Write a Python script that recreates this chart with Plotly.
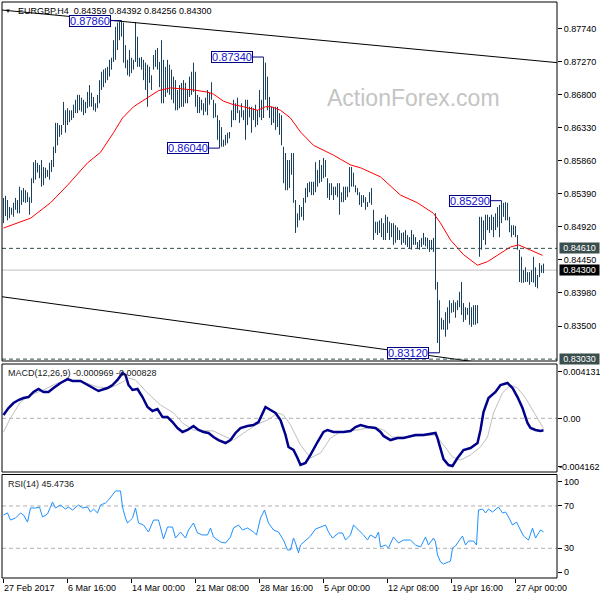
import plotly.graph_objects as go

# ---------------- data ----------------
symbol_text = "EURGBP,H4  0.84359 0.84392 0.84256 0.84300"
macd_text = "MACD(12,26,9) -0.000969 -0.000828"
rsi_text = "RSI(14) 45.4736"
watermark = "ActionForex.com"

bar_high = [
    0.8533, 0.8536, 0.8530, 0.8520, 0.8519, 0.8526, 0.8533, 0.8530, 0.8549, 0.8544,
    0.8547, 0.8544, 0.8541, 0.8534, 0.8561, 0.8584, 0.8587, 0.8583, 0.8580, 0.8587,
    0.8577, 0.8576, 0.8573, 0.8583, 0.8587, 0.8606, 0.8640, 0.8640, 0.8637, 0.8637,
    0.8670, 0.8658, 0.8661, 0.8658, 0.8658, 0.8666, 0.8673, 0.8680, 0.8680, 0.8676,
    0.8673, 0.8670, 0.8684, 0.8694, 0.8683, 0.8677, 0.8668, 0.8680, 0.8701, 0.8713,
    0.8716, 0.8718, 0.8720, 0.8730, 0.8733, 0.8758, 0.8777, 0.8783, 0.8784, 0.8786,
    0.8783, 0.8751, 0.8730, 0.8744, 0.8733, 0.8730, 0.8784, 0.8763, 0.8733, 0.8734,
    0.8730, 0.8726, 0.8723, 0.8720, 0.8708, 0.8737, 0.8744, 0.8747, 0.8727, 0.8758,
    0.8730, 0.8720, 0.8730, 0.8723, 0.8716, 0.8706, 0.8701, 0.8687, 0.8694, 0.8697,
    0.8701, 0.8697, 0.8687, 0.8706, 0.8713, 0.8726, 0.8713, 0.8680, 0.8677, 0.8673,
    0.8668, 0.8676, 0.8687, 0.8683, 0.8698, 0.8673, 0.8668, 0.8651, 0.8644, 0.8634,
    0.8616, 0.8623, 0.8626, 0.8627, 0.8658, 0.8673, 0.8668, 0.8676, 0.8658, 0.8668,
    0.8658, 0.8673, 0.8673, 0.8663, 0.8663, 0.8661, 0.8666, 0.8658, 0.8687, 0.8673,
    0.8734, 0.8726, 0.8706, 0.8677, 0.8663, 0.8663, 0.8663, 0.8663, 0.8654, 0.8651,
    0.8606, 0.8597, 0.8587, 0.8587, 0.8597, 0.8597, 0.8530, 0.8511, 0.8523, 0.8520,
    0.8533, 0.8547, 0.8554, 0.8556, 0.8556, 0.8556, 0.8584, 0.8573, 0.8587, 0.8580,
    0.8590, 0.8587, 0.8561, 0.8554, 0.8554, 0.8549, 0.8549, 0.8554, 0.8554, 0.8541,
    0.8549, 0.8549, 0.8549, 0.8577, 0.8577, 0.8569, 0.8551, 0.8547, 0.8541, 0.8537,
    0.8537, 0.8534, 0.8527, 0.8541, 0.8547, 0.8516, 0.8499, 0.8499, 0.8501, 0.8504,
    0.8497, 0.8509, 0.8506, 0.8499, 0.8497, 0.8497, 0.8494, 0.8491, 0.8487, 0.8483,
    0.8484, 0.8487, 0.8480, 0.8477, 0.8487, 0.8481, 0.8477, 0.8470, 0.8473, 0.8476,
    0.8483, 0.8477, 0.8476, 0.8473, 0.8473, 0.8476, 0.8511, 0.8413, 0.8387, 0.8362,
    0.8359, 0.8370, 0.8377, 0.8387, 0.8383, 0.8387, 0.8384, 0.8387, 0.8399, 0.8413,
    0.8383, 0.8377, 0.8376, 0.8384, 0.8377, 0.8380, 0.8380, 0.8380, 0.8506, 0.8506,
    0.8501, 0.8509, 0.8509, 0.8506, 0.8509, 0.8506, 0.8511, 0.8520, 0.8523, 0.8529,
    0.8526, 0.8527, 0.8526, 0.8506, 0.8494, 0.8494, 0.8493, 0.8480, 0.8459, 0.8449,
    0.8430, 0.8434, 0.8427, 0.8427, 0.8430, 0.8449, 0.8434, 0.8423, 0.8440, 0.8437, 0.84392,
]
bar_low = [
    0.8497, 0.8507, 0.8501, 0.8504, 0.8509, 0.8506, 0.8516, 0.8511, 0.8511, 0.8523,
    0.8527, 0.8526, 0.8527, 0.8509, 0.8526, 0.8554, 0.8559, 0.8569, 0.8561, 0.8549,
    0.8551, 0.8561, 0.8563, 0.8559, 0.8570, 0.8577, 0.8597, 0.8608, 0.8620, 0.8623,
    0.8637, 0.8626, 0.8637, 0.8641, 0.8644, 0.8647, 0.8654, 0.8654, 0.8658, 0.8656,
    0.8651, 0.8654, 0.8661, 0.8663, 0.8663, 0.8658, 0.8656, 0.8661, 0.8668, 0.8687,
    0.8691, 0.8697, 0.8701, 0.8706, 0.8716, 0.8727, 0.8730, 0.8744, 0.8758, 0.8763,
    0.8726, 0.8718, 0.8708, 0.8706, 0.8711, 0.8716, 0.8727, 0.8720, 0.8720, 0.8716,
    0.8701, 0.8687, 0.8663, 0.8697, 0.8687, 0.8716, 0.8720, 0.8716, 0.8691, 0.8668,
    0.8668, 0.8677, 0.8683, 0.8680, 0.8673, 0.8668, 0.8658, 0.8658, 0.8661, 0.8663,
    0.8663, 0.8668, 0.8668, 0.8677, 0.8680, 0.8684, 0.8663, 0.8654, 0.8654, 0.8658,
    0.8651, 0.8656, 0.8651, 0.8666, 0.8673, 0.8647, 0.8648, 0.8616, 0.8604, 0.8606,
    0.8606, 0.8608, 0.8611, 0.8618, 0.8634, 0.8644, 0.8644, 0.8654, 0.8640, 0.8648,
    0.8644, 0.8616, 0.8637, 0.8648, 0.8626, 0.8644, 0.8634, 0.8637, 0.8648, 0.8644,
    0.8647, 0.8673, 0.8658, 0.8647, 0.8637, 0.8640, 0.8630, 0.8634, 0.8623, 0.8608,
    0.8554, 0.8544, 0.8544, 0.8547, 0.8566, 0.8526, 0.8483, 0.8491, 0.8501, 0.8506,
    0.8501, 0.8526, 0.8534, 0.8541, 0.8537, 0.8537, 0.8541, 0.8549, 0.8554, 0.8556,
    0.8561, 0.8563, 0.8533, 0.8530, 0.8537, 0.8530, 0.8537, 0.8534, 0.8509, 0.8527,
    0.8527, 0.8530, 0.8534, 0.8541, 0.8549, 0.8549, 0.8541, 0.8537, 0.8523, 0.8520,
    0.8526, 0.8516, 0.8520, 0.8526, 0.8523, 0.8473, 0.8483, 0.8480, 0.8483, 0.8477,
    0.8473, 0.8473, 0.8483, 0.8473, 0.8477, 0.8466, 0.8469, 0.8473, 0.8473, 0.8466,
    0.8469, 0.8466, 0.8463, 0.8461, 0.8459, 0.8466, 0.8466, 0.8460, 0.8459, 0.8463,
    0.8466, 0.8464, 0.8460, 0.8456, 0.8459, 0.8456, 0.8402, 0.8326, 0.8312, 0.8345,
    0.8345, 0.8335, 0.8345, 0.8354, 0.8369, 0.8370, 0.8362, 0.8373, 0.8377, 0.8366,
    0.8356, 0.8359, 0.8366, 0.8352, 0.8349, 0.8352, 0.8352, 0.8354, 0.8449, 0.8459,
    0.8473, 0.8466, 0.8487, 0.8483, 0.8487, 0.8477, 0.8487, 0.8491, 0.8477, 0.8497,
    0.8506, 0.8501, 0.8501, 0.8484, 0.8477, 0.8480, 0.8477, 0.8459, 0.8413, 0.8412,
    0.8412, 0.8413, 0.8413, 0.8409, 0.8413, 0.8412, 0.8406, 0.8404, 0.8420, 0.8426, 0.84256,
]

ma_idx = [0, 13.5, 23.5, 32, 42, 48.5, 55, 59.5, 65, 72, 77.5, 83.5, 95, 102, 105, 110,
          115, 120, 127, 131, 134, 138.5, 143.5, 148.5, 155, 165, 173.5, 178.5, 188.5,
          198.5, 207, 215, 218.5, 223.5, 230, 237, 242, 248.5, 253.5, 257.5, 265, 269.5]
ma_val = [0.8490, 0.8504, 0.8526, 0.8551, 0.8583, 0.8598, 0.8626, 0.8647, 0.8663, 0.8676,
          0.8686, 0.8690, 0.8687, 0.8684, 0.8681, 0.8671, 0.8666, 0.8663, 0.8658, 0.8663,
          0.8663, 0.8658, 0.8647, 0.8627, 0.8608, 0.8594, 0.8580, 0.8576, 0.8563, 0.8537,
          0.8526, 0.8511, 0.8497, 0.8473, 0.8452, 0.8437, 0.8442, 0.8454, 0.8463, 0.8466,
          0.8456, 0.8451]

macd_idx = [0, 2.5, 5, 7.5, 10, 12.5, 15, 17.5, 20, 22.5, 25, 28.5, 32, 34.5, 38.5, 42, 45,
            47.5, 52, 54.5, 57, 59.5, 61, 62.5, 64.5, 67, 69.5, 72, 74.5, 77, 79.5, 82, 84.5,
            87, 89.5, 92, 95, 97.5, 100, 102.5, 105, 107.5, 111, 113.5, 116, 118.5, 122, 125,
            127.5, 131, 133.5, 136, 138.5, 141, 142.5, 145, 147, 148.5, 151, 153.5, 157, 160,
            162, 165, 170, 173.5, 176, 178.5, 182, 186, 188.5, 190, 193.5, 197, 200, 203.5,
            206, 210, 214.5, 216, 217, 218.5, 220, 222.5, 224.5, 227, 230, 233.5, 237, 238.5,
            240, 242.5, 246, 248.5, 252, 254.5, 257, 259.5, 262, 263.5, 266, 268.5, 270]
macd_val = [0.00027, 0.00083, 0.00123, 0.00147, 0.00163, 0.00171, 0.00212, 0.00236, 0.00212,
            0.00212, 0.00244, 0.00284, 0.00316, 0.00300, 0.00300, 0.00268, 0.00244, 0.00220,
            0.00244, 0.00268, 0.00309, 0.00365, 0.00349, 0.00268, 0.00228, 0.00236, 0.00171,
            0.00091, 0.00059, 0.00075, 0.00010, 0.00010, -0.00030, -0.00078, -0.00110,
            -0.00094, -0.00062, -0.00094, -0.00110, -0.00118, -0.00151, -0.00175, -0.00199,
            -0.00175, -0.00118, -0.00078, -0.00062, -0.00054, -0.00030, 0.00091, 0.00067,
            0.00043, -0.00014, -0.00134, -0.00231, -0.00255, -0.00320, -0.00376, -0.00360,
            -0.00295, -0.00191, -0.00110, -0.00094, -0.00110, -0.00110, -0.00102, -0.00070,
            -0.00054, -0.00070, -0.00078, -0.00110, -0.00142, -0.00175, -0.00159, -0.00159,
            -0.00142, -0.00134, -0.00134, -0.00126, -0.00118, -0.00159, -0.00255, -0.00328,
            -0.00376, -0.00384, -0.00320, -0.00255, -0.00239, -0.00199, -0.00094, 0.00051,
            0.00163, 0.00212, 0.00268, 0.00284, 0.00244, 0.00171, 0.00083, -0.00038,
            -0.00078, -0.00094, -0.00102, -0.000969]

signal_idx = [0, 3.5, 8.5, 13.5, 20, 27, 32.5, 40, 47, 53.5, 59.5, 62.5, 66, 72, 78.5, 85,
              89.5, 95, 105, 110, 115, 120, 126, 132, 137, 140, 143.5, 148.5, 153.5, 158.5,
              163.5, 168.5, 177, 185, 190, 194.5, 200, 208.5, 216, 220, 224.5, 228.5, 233.5,
              238.5, 242, 245, 249.5, 253.5, 257, 261, 265, 270]
signal_val = [-0.00110, 0.00002, 0.00131, 0.00188, 0.00228, 0.00284, 0.00308, 0.00292,
              0.00252, 0.00244, 0.00292, 0.00324, 0.00308, 0.00204, 0.00107, 0.00043,
              -0.00038, -0.00094, -0.00102, -0.00142, -0.00175, -0.00118, -0.00054,
              -0.00014, 0.00043, 0.00027, -0.00054, -0.00215, -0.00320, -0.00279, -0.00159,
              -0.00110, -0.00094, -0.00070, -0.00094, -0.00151, -0.00151, -0.00142,
              -0.00134, -0.00215, -0.00312, -0.00336, -0.00295, -0.00231, -0.00151,
              0.00043, 0.00204, 0.00268, 0.00244, 0.00163, 0.00051, -0.000828]

rsi_idx = [0, 2, 3.5, 6, 8.5, 10, 12, 13.5, 16, 18, 19.5, 22, 24.5, 26, 28.5, 31, 32.5, 34.5,
           37.5, 39.5, 42, 43.5, 45, 47, 48.5, 51, 52.5, 54.5, 56, 58.5, 59.5, 61, 62, 64.5,
           66, 67.5, 70, 72.5, 75, 77.5, 80, 82, 84.5, 86, 88.5, 91, 92.5, 95, 97, 99.5, 102,
           103.5, 105, 108.5, 111, 113.5, 115, 117.5, 119.5, 122, 125, 126.5, 128.5, 130.5,
           132.5, 135, 137.5, 140, 142, 143.5, 145, 146, 147.5, 148.5, 151, 153.5, 156, 158.5,
           161, 162.5, 164.5, 167.5, 169.5, 171, 173.5, 175, 177.5, 180, 182, 183.5, 186,
           187.5, 188.5, 191, 192.5, 195, 197.5, 200, 203.5, 206, 208.5, 211, 212.5, 215, 216,
           217, 218.5, 220, 222.5, 223.5, 224.5, 226, 228, 229.5, 231, 232.5, 235, 236.5,
           237.5, 239.5, 241, 242.5, 244.5, 246, 247.5, 249.5, 251, 252.5, 254.5, 256.5,
           258.5, 260, 262.5, 264.5, 266, 268.5, 270]
rsi_val = [61.5, 63.4, 56.7, 58.6, 63.4, 61.5, 54.8, 68.1, 68.1, 69.0, 59.6, 62.4, 73.8, 68.1,
           70.9, 67.1, 69.0, 66.2, 70.9, 68.1, 69.0, 64.3, 67.1, 63.4, 70.9, 72.8, 75.6, 80.4,
           84.2, 84.2, 69.0, 58.6, 53.9, 58.6, 68.1, 53.9, 52.0, 45.4, 56.7, 56.7, 38.8, 50.1,
           50.1, 39.7, 45.4, 39.7, 47.3, 53.9, 44.5, 42.6, 42.6, 49.2, 40.7, 36.0, 35.0, 40.7,
           49.2, 52.0, 47.3, 49.2, 45.4, 42.6, 58.6, 66.2, 53.9, 47.3, 45.4, 37.8, 28.4, 28.4,
           39.7, 35.0, 25.6, 33.1, 37.8, 41.6, 48.2, 50.1, 52.0, 45.4, 39.7, 44.5, 44.5, 37.8,
           42.6, 52.0, 47.3, 42.6, 37.8, 42.6, 39.7, 45.4, 31.2, 33.1, 30.3, 40.7, 35.0, 37.8,
           37.8, 33.1, 31.2, 40.7, 33.1, 39.7, 36.0, 23.7, 17.1, 15.2, 17.1, 18.0, 30.3, 32.2,
           37.8, 41.6, 33.1, 36.9, 36.9, 33.1, 66.2, 67.1, 63.4, 67.1, 64.3, 67.1, 69.0, 63.4,
           64.3, 59.6, 52.0, 54.8, 47.3, 41.6, 37.8, 49.2, 39.7, 47.3, 45.4736]

price_ticks = [0.87740, 0.87270, 0.86800, 0.86330, 0.85860, 0.85390, 0.84920, 0.84450,
               0.83980, 0.83500]
time_tick_idx = [0, 32, 64, 96, 128, 160, 192, 224, 256]
time_tick_labels = ["27 Feb 2017", "6 Mar 16:00", "14 Mar 00:00", "21 Mar 08:00",
                    "28 Mar 16:00", "5 Apr 00:00", "12 Apr 08:00", "19 Apr 16:00",
                    "27 Apr 00:00"]

resist_level = 0.84610
bid_level = 0.84300
support_level = 0.83030
swing_prices = [0.87860, 0.87340, 0.86040, 0.85290, 0.83120]
swing_bar_idx = [59, 130, 108, 249, 218]

upper_trend_idx = [-0.75, 276.75]
upper_trend_val = [0.8801, 0.8726]
lower_trend_idx = [-0.75, 276.75]
lower_trend_val = [0.8392, 0.8283]

macd_labels = ["0.004131", "0.00", "-0.004162"]
rsi_levels = [70, 30]
rsi_labels = ["100", "70", "30", "0"]

# ---------------- layout helpers ----------------
W, H = 600, 600
ML, MR, MT, MB = 2, 43, 2, 22
PW, PH = W - ML - MR, H - MT - MB


def py(y):  # pixel row -> paper y
    return (H - MB - y) / PH


def px(x):  # pixel column -> paper x
    return (x - ML) / PW


FONT = "Liberation Sans, Arial, sans-serif"
BAR_COLOR = "#19405E"
n_bars = len(bar_high)

fig = go.Figure()

# OHLC bars as high-low verticals
bx, by = [], []
for i in range(n_bars):
    bx += [i, i, None]
    by += [bar_low[i], bar_high[i], None]
fig.add_trace(go.Scatter(x=bx, y=by, mode="lines", line=dict(color=BAR_COLOR, width=1),
                         hoverinfo="skip", yaxis="y"))

# moving average
fig.add_trace(go.Scatter(x=ma_idx, y=ma_val, mode="lines", line=dict(color="#FF0000", width=1),
                         yaxis="y"))

# trend lines
fig.add_trace(go.Scatter(x=upper_trend_idx, y=upper_trend_val, mode="lines",
                         line=dict(color="black", width=1), yaxis="y"))
fig.add_trace(go.Scatter(x=lower_trend_idx, y=lower_trend_val, mode="lines",
                         line=dict(color="black", width=1), yaxis="y"))

# swing label connectors
cx, cy = [], []
for b, p in zip(swing_bar_idx, swing_prices):
    cx += [b - 5.5, b, None]
    cy += [p, p, None]
fig.add_trace(go.Scatter(x=cx, y=cy, mode="lines", line=dict(color="#000080", width=1),
                         yaxis="y"))

# MACD
fig.add_trace(go.Scatter(x=signal_idx, y=signal_val, mode="lines",
                         line=dict(color="#C0C0C0", width=1), yaxis="y2"))
fig.add_trace(go.Scatter(x=macd_idx, y=macd_val, mode="lines",
                         line=dict(color="#00008B", width=2.5), yaxis="y2"))

# RSI
fig.add_trace(go.Scatter(x=rsi_idx, y=rsi_val, mode="lines",
                         line=dict(color="#1E90FF", width=1), yaxis="y3"))

shapes = []
dash = "4px,3px"
shapes.append(dict(type="line", xref="paper", yref="y", x0=0, x1=1, y0=resist_level,
                   y1=resist_level, line=dict(color="#2F4F4F", width=1, dash=dash)))
shapes.append(dict(type="line", xref="paper", yref="y", x0=0, x1=1, y0=support_level,
                   y1=support_level, line=dict(color="#2F4F4F", width=1, dash=dash)))
shapes.append(dict(type="line", xref="paper", yref="y", x0=0, x1=1, y0=bid_level,
                   y1=bid_level, line=dict(color="#C0C0C0", width=1), layer="below"))
shapes.append(dict(type="line", xref="paper", yref="y2", x0=0, x1=1, y0=0, y1=0,
                   line=dict(color="#B0B0B0", width=1, dash=dash), layer="below"))
for lv in rsi_levels:
    shapes.append(dict(type="line", xref="paper", yref="y3", x0=0, x1=1, y0=lv, y1=lv,
                       line=dict(color="#B0B0B0", width=1, dash=dash), layer="below"))
# panel frames
for top, bot in [(2, 361), (364, 472), (474.5, 578)]:
    shapes.append(dict(type="rect", xref="paper", yref="paper", x0=0, x1=1,
                       y0=py(bot), y1=py(top), line=dict(color="black", width=1)))

annotations = []
annotations.append(dict(xref="paper", yref="paper", x=px(16), y=py(11), xanchor="left",
                        yanchor="middle", text=symbol_text, showarrow=False,
                        font=dict(family=FONT, size=9, color="black")))
annotations.append(dict(xref="paper", yref="paper", x=px(8), y=py(11), xanchor="center",
                        yanchor="middle", text="▼", showarrow=False,
                        font=dict(family=FONT, size=6, color="black")))
annotations.append(dict(xref="paper", yref="paper", x=px(413), y=py(98), xanchor="center",
                        yanchor="middle", text=watermark, showarrow=False,
                        font=dict(family=FONT, size=23, color="#C4C4C4")))
annotations.append(dict(xref="paper", yref="paper", x=px(6), y=py(373), xanchor="left",
                        yanchor="middle", text=macd_text, showarrow=False,
                        font=dict(family=FONT, size=9, color="#202020")))
annotations.append(dict(xref="paper", yref="paper", x=px(6), y=py(484), xanchor="left",
                        yanchor="middle", text=rsi_text, showarrow=False,
                        font=dict(family=FONT, size=9, color="#202020")))

# swing labels
for b, p in zip(swing_bar_idx, swing_prices):
    annotations.append(dict(xref="x", yref="y", x=b - 15.75, y=p, xanchor="center",
                            yanchor="middle", text=f"{p:.5f}", showarrow=False,
                            width=40, height=10, borderpad=0, borderwidth=1,
                            bordercolor="#000080", bgcolor="white",
                            font=dict(family=FONT, size=11, color="#1010D0")))

# boxed right-axis labels
for lv, bg in [(resist_level, "#3A4E4E"), (bid_level, "#000000"), (support_level, "#3A4E4E")]:
    annotations.append(dict(xref="paper", yref="y", x=px(579.5), y=lv, xanchor="center",
                            yanchor="middle", text=f"{lv:.5f}", showarrow=False,
                            width=39, height=10, borderpad=0, bgcolor=bg,
                            font=dict(family=FONT, size=9, color="white")))

# MACD / RSI scale labels
for txt, yy, xx in zip(macd_labels, [372, 418.5, 467], [561, 561, 557]):
    annotations.append(dict(xref="paper", yref="paper", x=px(xx), y=py(yy), xanchor="left",
                            yanchor="middle", text=txt, showarrow=False,
                            font=dict(family=FONT, size=9, color="black")))
for txt, yy in zip(rsi_labels, [482, 506, 548, 572]):
    annotations.append(dict(xref="paper", yref="paper", x=px(562), y=py(yy), xanchor="left",
                            yanchor="middle", text=txt, showarrow=False,
                            font=dict(family=FONT, size=9, color="black")))

# time labels
for t, lab in zip(time_tick_idx, time_tick_labels):
    annotations.append(dict(xref="x", yref="paper", x=t, y=py(588), xanchor="left",
                            yanchor="middle", xshift=-2, text=lab, showarrow=False,
                            font=dict(family=FONT, size=9, color="black")))

fig.update_layout(
    width=W, height=H,
    margin=dict(l=ML, r=MR, t=MT, b=MB, pad=0),
    paper_bgcolor="white", plot_bgcolor="white",
    showlegend=False,
    xaxis=dict(range=[-0.75, 276.75], anchor="y3", showgrid=False, zeroline=False,
               tickvals=time_tick_idx, ticks="outside", ticklen=4, tickcolor="black",
               showticklabels=False, showline=False, fixedrange=True),
    yaxis=dict(domain=[py(361), 1], range=[0.83003, 0.88125], side="right", anchor="x",
               showgrid=False, zeroline=False, tickvals=price_ticks,
               ticktext=[f"{v:.5f}" for v in price_ticks], ticks="outside", ticklen=4,
               tickcolor="black", tickfont=dict(family=FONT, size=9, color="black"),
               showline=False),
    yaxis2=dict(domain=[py(472), py(364)], range=[-0.004323, 0.004371], side="right",
                anchor="x", showgrid=False, zeroline=False, tickvals=[0.00373, 0, -0.0039],
                ticks="outside", ticklen=4, tickcolor="black", showticklabels=False),
    yaxis3=dict(domain=[0, py(474.5)], range=[1.93, 99.75], side="right", anchor="x",
                showgrid=False, zeroline=False, tickvals=[92.7, 70, 30, 7.6],
                ticks="outside", ticklen=4, tickcolor="black", showticklabels=False),
    shapes=shapes,
    annotations=annotations,
)

fig.write_html("out.html", config={"displayModeBar": False},
               post_script="document.body.style.margin='0px';document.body.style.overflow='hidden';")
